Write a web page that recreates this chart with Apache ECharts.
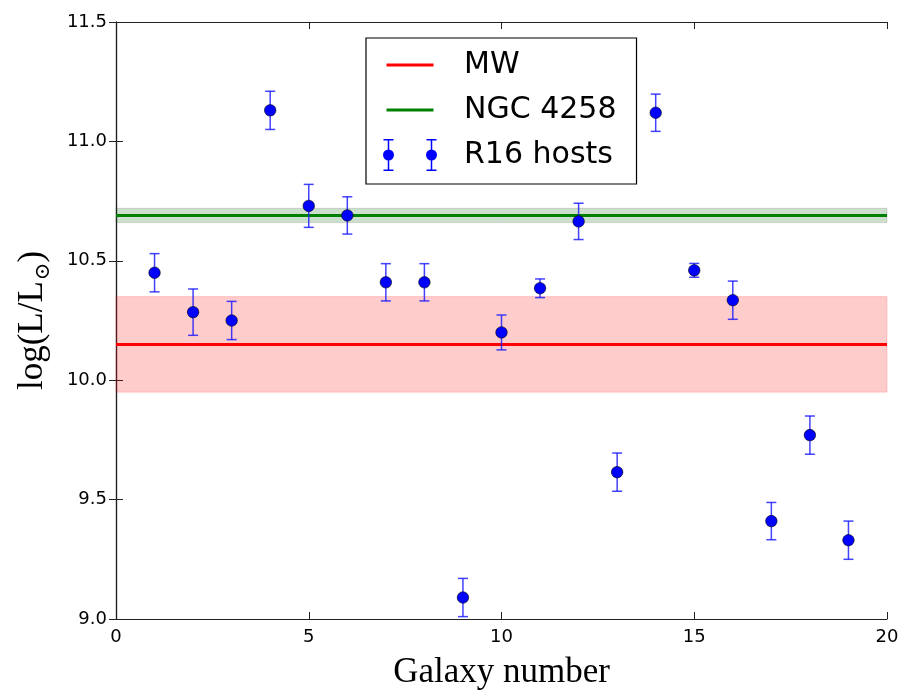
<!DOCTYPE html>
<html>
<head>
<meta charset="utf-8">
<title>Galaxy luminosities</title>
<script src="https://cdn.jsdelivr.net/npm/echarts@6/dist/echarts.min.js"></script>
<style>
  html, body { margin: 0; padding: 0; background: #fff; }
  #chart { width: 903px; height: 693px; }
</style>
</head>
<body>
<div id="chart"></div>
<script>
// R16 SN Ia host galaxies: index, log luminosity and its uncertainty
const galaxyNumber = [1, 2, 3, 4, 5, 6, 7, 8, 9, 10, 11, 12, 13, 14, 15, 16, 17, 18, 19];
const logL = [10.45, 10.285, 10.25, 11.13, 10.73, 10.69, 10.41, 10.41, 9.09, 10.2,
              10.385, 10.665, 9.615, 11.12, 10.46, 10.335, 9.41, 9.77, 9.33];
const logLErr = [0.08, 0.097, 0.08, 0.08, 0.09, 0.078, 0.078, 0.078, 0.08, 0.073,
                 0.039, 0.076, 0.08, 0.078, 0.029, 0.08, 0.078, 0.08, 0.08];

// Reference galaxies: central value and half-width of the shaded band
const mwLogL = 10.15;
const mwErr = 0.2;
const ngcLogL = 10.69;
const ngcErr = 0.03;

// Axis ranges
const xRange = [0, 20];
const yRange = [9.0, 11.5];

const hostPoints = galaxyNumber.map((g, i) => [g, logL[i]]);
const hostErrors = galaxyNumber.map((g, i) => [g, logL[i], logLErr[i]]);

const chart = echarts.init(document.getElementById('chart'), null, { renderer: 'canvas' });

const tickFont = { fontFamily: 'DejaVu Sans', fontSize: 18, color: '#000' };
const frameLine = { lineStyle: { color: '#222', width: 1.2 } };
const innerTick = { show: true, inside: true, length: 7, lineStyle: { color: '#222', width: 1 } };

// Legend glyphs: a horizontal stroke, and two markers with error bars
const lineIcon = 'path://M0 0 M3.5 14.5 h47 v3 h-47 z M54 32';
function barMarker(cx) {
  return 'M' + (cx - 0.75) + ' 0 h1.5 v32 h-1.5 z ' +
         'M' + (cx - 5) + ' 0 h10 v1.5 h-10 z ' +
         'M' + (cx - 5) + ' 30.5 h10 v1.5 h-10 z ' +
         'M' + (cx - 5.5) + ' 16 a5.5 5.5 0 1 1 11 0 a5.5 5.5 0 1 1 -11 0 z ';
}
const hostIcon = 'path://' + barMarker(5.5) + barMarker(48.5);

const option = {
  animation: false,
  backgroundColor: '#fff',
  grid: { left: 116, right: 16, top: 22, bottom: 74, outerBoundsMode: 'none' },
  legend: {
    orient: 'vertical',
    left: 366,
    top: 38,
    padding: [11, 20, 13, 17],
    itemWidth: 54,
    itemHeight: 34,
    itemGap: 13,
    backgroundColor: '#fff',
    borderColor: '#000',
    borderWidth: 1.2,
    borderRadius: 0,
    selectedMode: false,
    textStyle: { fontFamily: 'DejaVu Sans', fontSize: 30, color: '#000', padding: [0, 0, 0, 22] },
    data: [
      { name: 'MW', icon: lineIcon, itemStyle: { color: '#ff0000', borderWidth: 0 } },
      { name: 'NGC 4258', icon: lineIcon, itemStyle: { color: '#008000', borderWidth: 0 } },
      { name: 'R16 hosts', icon: hostIcon, itemStyle: { color: '#0000ff', borderWidth: 0 } }
    ]
  },
  xAxis: [
    {
      type: 'value', min: xRange[0], max: xRange[1], interval: 5,
      axisLine: frameLine, axisTick: innerTick, splitLine: { show: false },
      axisLabel: Object.assign({ margin: 9 }, tickFont),
      name: 'Galaxy number', nameLocation: 'middle', nameGap: 36,
      nameTextStyle: { fontFamily: 'Liberation Serif', fontSize: 35, color: '#000' }
    },
    {
      type: 'value', position: 'top', min: xRange[0], max: xRange[1], interval: 5,
      axisLine: frameLine, axisTick: innerTick, splitLine: { show: false },
      axisLabel: { show: false }
    }
  ],
  yAxis: [
    {
      type: 'value', min: yRange[0], max: yRange[1], interval: 0.5,
      axisLine: frameLine, axisTick: innerTick, splitLine: { show: false },
      axisLabel: Object.assign({ margin: 9, formatter: v => v.toFixed(1) }, tickFont),
      name: '{n|log(L/L}{s|⊙}{n|)}', nameLocation: 'middle', nameGap: 62, nameRotate: 90,
      nameTextStyle: {
        rich: {
          n: { fontFamily: 'Liberation Serif', fontSize: 35, color: '#000' },
          s: { fontFamily: 'DejaVu Serif', fontSize: 21, color: '#000', padding: [22, 0, 0, 1] }
        }
      }
    },
    {
      type: 'value', position: 'right', min: yRange[0], max: yRange[1], interval: 0.5,
      axisLine: frameLine, axisTick: innerTick, splitLine: { show: false },
      axisLabel: { show: false }
    }
  ],
  series: [
    {
      name: 'MW', type: 'line', z: 2,
      data: [[xRange[0], mwLogL], [xRange[1], mwLogL]],
      symbol: 'none', color: '#ff0000',
      lineStyle: { color: '#ff0000', width: 3 },
      markArea: {
        silent: true,
        itemStyle: { color: 'rgba(255,0,0,0.2)', borderColor: 'rgba(255,0,0,0.15)', borderWidth: 1 },
        data: [[{ yAxis: mwLogL - mwErr }, { yAxis: mwLogL + mwErr }]]
      }
    },
    {
      name: 'NGC 4258', type: 'line', z: 2,
      data: [[xRange[0], ngcLogL], [xRange[1], ngcLogL]],
      symbol: 'none', color: '#008000',
      lineStyle: { color: '#008000', width: 3 },
      markArea: {
        silent: true,
        itemStyle: { color: 'rgba(0,90,0,0.2)', borderColor: 'rgba(0,0,0,0.12)', borderWidth: 1 },
        data: [[{ yAxis: ngcLogL - ngcErr }, { yAxis: ngcLogL + ngcErr }]]
      }
    },
    {
      name: 'R16 hosts', type: 'custom', z: 3,
      data: hostErrors,
      encode: { x: 0, y: 1 },
      renderItem: function (params, api) {
        const x = api.value(0), y = api.value(1), e = api.value(2);
        const top = api.coord([x, y + e]);
        const bot = api.coord([x, y - e]);
        const cap = 5;
        const style = { stroke: 'rgba(20,20,255,0.8)', lineWidth: 1.5 };
        return {
          type: 'group',
          children: [
            { type: 'line', shape: { x1: top[0], y1: top[1], x2: bot[0], y2: bot[1] }, style: style },
            { type: 'line', shape: { x1: top[0] - cap, y1: top[1], x2: top[0] + cap, y2: top[1] }, style: style },
            { type: 'line', shape: { x1: bot[0] - cap, y1: bot[1], x2: bot[0] + cap, y2: bot[1] }, style: style }
          ]
        };
      }
    },
    {
      name: 'R16 hosts', type: 'scatter', z: 4,
      data: hostPoints,
      symbol: 'circle', symbolSize: 11.5,
      itemStyle: { color: '#0000ff', borderColor: '#000', borderWidth: 0.6, opacity: 1 }
    }
  ]
};

chart.setOption(option);
</script>
</body>
</html>
